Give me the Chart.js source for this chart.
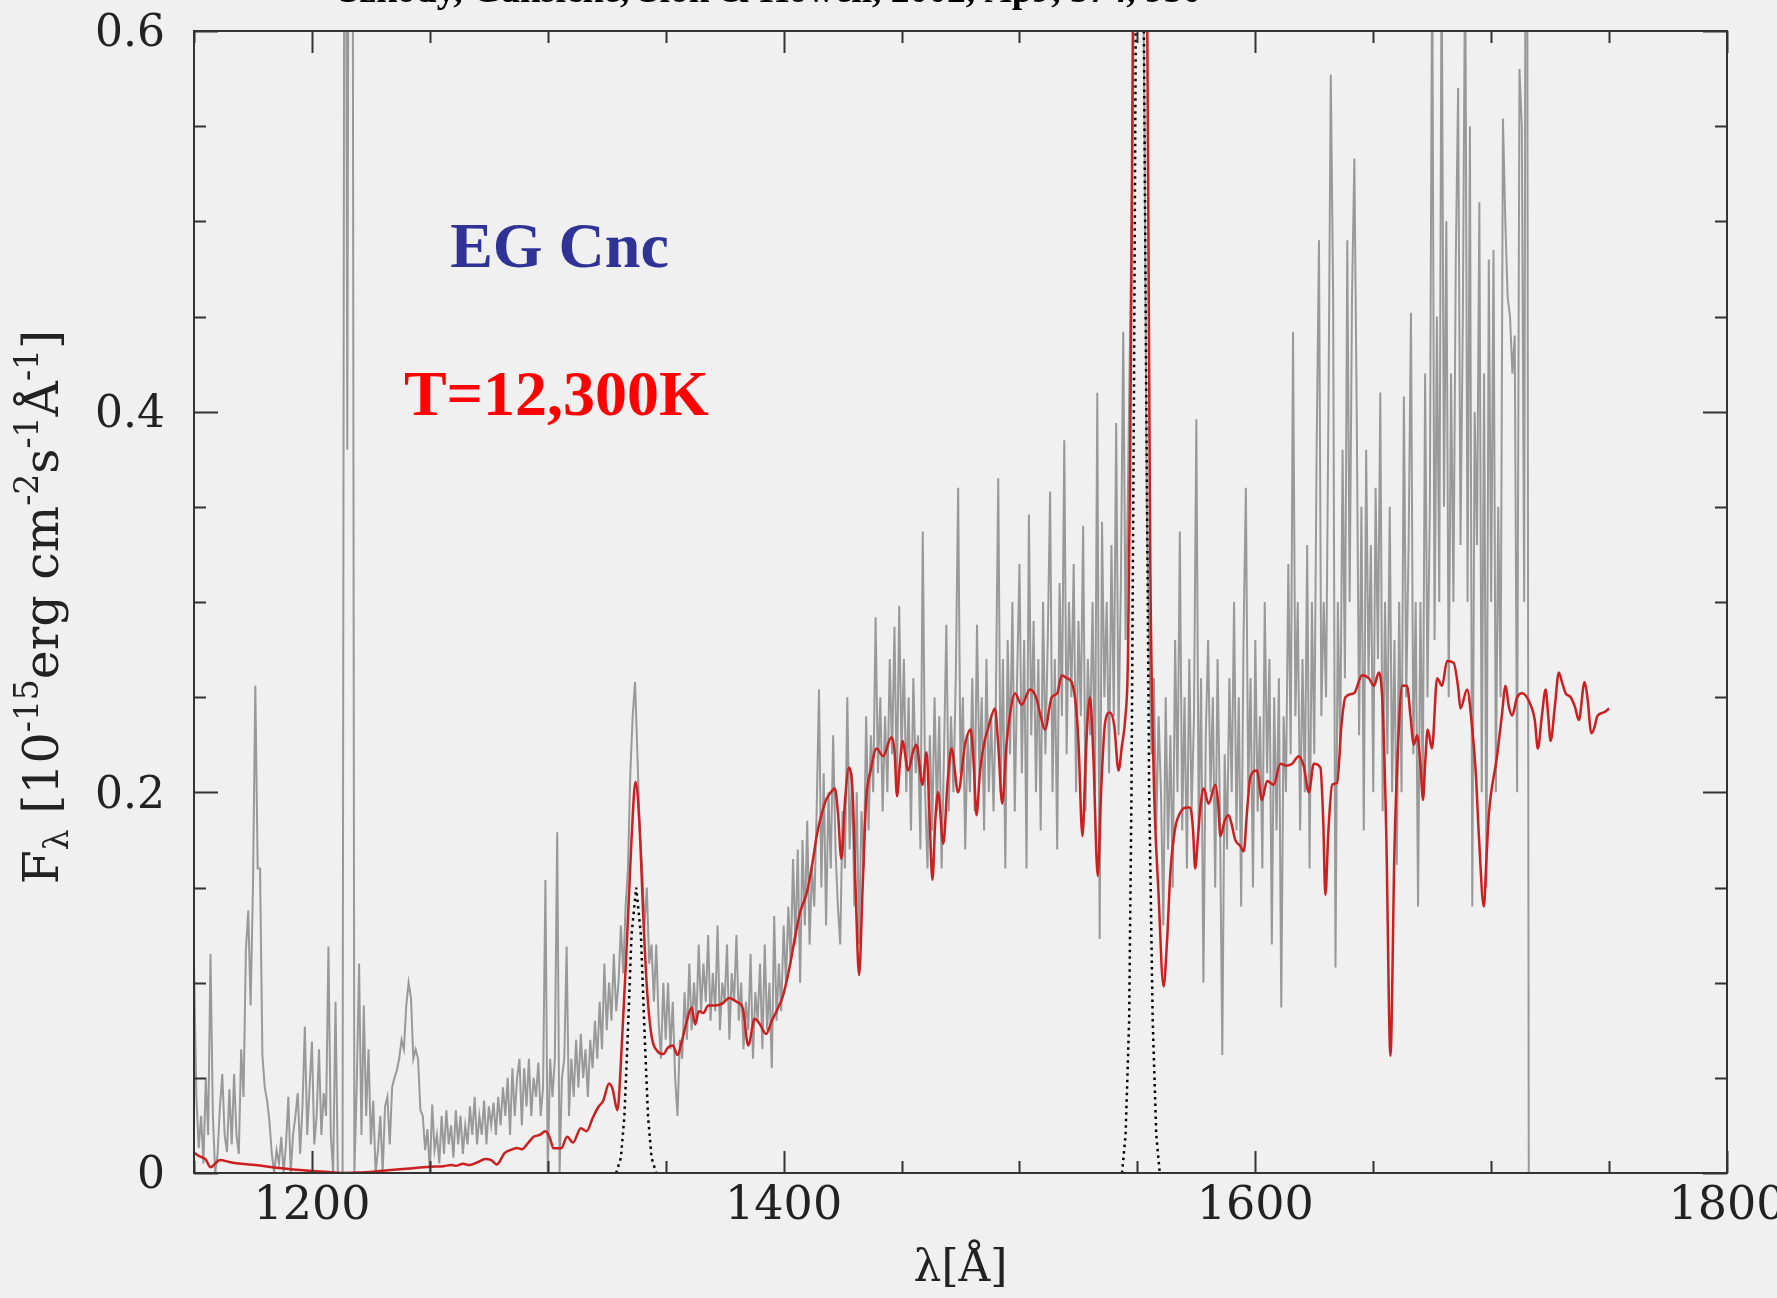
<!DOCTYPE html>
<html lang="en">
<head>
<meta charset="UTF-8">
<title>EG Cnc - HST spectrum and WD model</title>
<script src="https://cdn.jsdelivr.net/npm/chart.js"></script>
<style>
  html, body { margin: 0; padding: 0; background: #f0f0f0; }
  #wrap { width: 1777px; height: 1298px; }
</style>
</head>
<body>
<div id="wrap"><canvas id="spec" width="1777" height="1298"></canvas></div>

<script>
const obsWave = [
  1150,1151,1152,1153,1154,1155,1156,1157,1158,1159,
  1160,1161,1162,1163,1164,1165,1166,1167,1168,1169,
  1170,1171,1172,1173,1174,1175,1176,1177,1178,1179,
  1180,1181,1182,1183,1184,1185,1186,1187,1188,1189,
  1190,1191,1192,1193,1194,1195,1196,1197,1198,1199,
  1200,1201,1202,1203,1204,1205,1206,1207,1208,1209,
  1210,1211,1212,1213,1214,1215,1216,1217,1218,1219,
  1220,1221,1222,1223,1224,1225,1226,1227,1228,1229,
  1230,1231,1232,1233,1234,1235,1236,1237,1238,1239,
  1240,1241,1242,1243,1244,1245,1246,1247,1248,1249,
  1250,1251,1252,1253,1254,1255,1256,1257,1258,1259,
  1260,1261,1262,1263,1264,1265,1266,1267,1268,1269,
  1270,1271,1272,1273,1274,1275,1276,1277,1278,1279,
  1280,1281,1282,1283,1284,1285,1286,1287,1288,1289,
  1290,1291,1292,1293,1294,1295,1296,1297,1298,1299,
  1300,1301,1302,1303,1304,1305,1306,1307,1308,1309,
  1310,1311,1312,1313,1314,1315,1316,1317,1318,1319,
  1320,1321,1322,1323,1324,1325,1326,1327,1328,1329,
  1330,1331,1332,1333,1334,1335,1336,1337,1338,1339,
  1340,1341,1342,1343,1344,1345,1346,1347,1348,1349,
  1350,1351,1352,1353,1354,1355,1356,1357,1358,1359,
  1360,1361,1362,1363,1364,1365,1366,1367,1368,1369,
  1370,1371,1372,1373,1374,1375,1376,1377,1378,1379,
  1380,1381,1382,1383,1384,1385,1386,1387,1388,1389,
  1390,1391,1392,1393,1394,1395,1396,1397,1398,1399,
  1400,1401,1402,1403,1404,1405,1406,1407,1408,1409,
  1410,1411,1412,1413,1414,1415,1416,1417,1418,1419,
  1420,1421,1422,1423,1424,1425,1426,1427,1428,1429,
  1430,1431,1432,1433,1434,1435,1436,1437,1438,1439,
  1440,1441,1442,1443,1444,1445,1446,1447,1448,1449,
  1450,1451,1452,1453,1454,1455,1456,1457,1458,1459,
  1460,1461,1462,1463,1464,1465,1466,1467,1468,1469,
  1470,1471,1472,1473,1474,1475,1476,1477,1478,1479,
  1480,1481,1482,1483,1484,1485,1486,1487,1488,1489,
  1490,1491,1492,1493,1494,1495,1496,1497,1498,1499,
  1500,1501,1502,1503,1504,1505,1506,1507,1508,1509,
  1510,1511,1512,1513,1514,1515,1516,1517,1518,1519,
  1520,1521,1522,1523,1524,1525,1526,1527,1528,1529,
  1530,1531,1532,1533,1534,1535,1536,1537,1538,1539,
  1540,1541,1542,1543,1544,1545,1546,1547,1548,1549,
  1550,1551,1552,1553,1554,1555,1556,1557,1558,1559,
  1560,1561,1562,1563,1564,1565,1566,1567,1568,1569,
  1570,1571,1572,1573,1574,1575,1576,1577,1578,1579,
  1580,1581,1582,1583,1584,1585,1586,1587,1588,1589,
  1590,1591,1592,1593,1594,1595,1596,1597,1598,1599,
  1600,1601,1602,1603,1604,1605,1606,1607,1608,1609,
  1610,1611,1612,1613,1614,1615,1616,1617,1618,1619,
  1620,1621,1622,1623,1624,1625,1626,1627,1628,1629,
  1630,1631,1632,1633,1634,1635,1636,1637,1638,1639,
  1640,1641,1642,1643,1644,1645,1646,1647,1648,1649,
  1650,1651,1652,1653,1654,1655,1656,1657,1658,1659,
  1660,1661,1662,1663,1664,1665,1666,1667,1668,1669,
  1670,1671,1672,1673,1674,1675,1676,1677,1678,1679,
  1680,1681,1682,1683,1684,1685,1686,1687,1688,1689,
  1690,1691,1692,1693,1694,1695,1696,1697,1698,1699,
  1700,1701,1702,1703,1704,1705,1706,1707,1708,1709,
  1710,1711,1712,1713,1714,1715,1716
];
const obsFlux = [
  0.110,0.040,0.013,0.030,0.005,0.050,0.020,0.115,0.030,0.000,
  0.010,0.035,0.052,0.020,0.011,0.044,0.015,0.052,0.020,0.010,
  0.065,0.040,0.117,0.138,0.088,0.150,0.256,0.160,0.160,0.062,
  0.045,0.038,0.027,0.010,0.000,0.012,0.005,0.019,0.000,0.015,
  0.040,0.000,0.020,0.030,0.042,0.010,0.035,0.077,0.020,0.045,
  0.069,0.015,0.030,0.065,0.020,0.042,0.030,0.119,0.020,0.000,
  0.090,0.000,0.000,0.000,0.950,0.380,0.950,0.950,0.000,0.046,
  0.110,0.020,0.088,0.030,0.065,0.015,0.038,0.000,0.012,0.030,
  0.000,0.035,0.040,0.015,0.045,0.050,0.054,0.060,0.070,0.065,
  0.088,0.100,0.092,0.060,0.065,0.060,0.033,0.030,0.012,0.023,
  0.000,0.036,0.012,0.020,0.005,0.030,0.010,0.033,0.015,0.025,
  0.008,0.033,0.015,0.030,0.010,0.025,0.015,0.035,0.020,0.040,
  0.015,0.030,0.020,0.038,0.015,0.035,0.025,0.037,0.020,0.040,
  0.025,0.045,0.030,0.050,0.020,0.055,0.030,0.050,0.060,0.025,
  0.055,0.035,0.060,0.030,0.050,0.040,0.058,0.030,0.045,0.154,
  0.000,0.060,0.040,0.060,0.179,0.000,0.050,0.060,0.119,0.030,
  0.060,0.040,0.070,0.045,0.073,0.050,0.065,0.040,0.070,0.055,
  0.080,0.060,0.090,0.065,0.110,0.075,0.100,0.080,0.115,0.085,
  0.100,0.130,0.105,0.140,0.160,0.210,0.240,0.258,0.220,0.180,
  0.160,0.130,0.150,0.110,0.120,0.090,0.120,0.080,0.060,0.100,
  0.070,0.100,0.065,0.090,0.050,0.030,0.070,0.060,0.095,0.070,
  0.110,0.075,0.100,0.080,0.120,0.085,0.110,0.090,0.125,0.080,
  0.105,0.085,0.130,0.075,0.100,0.090,0.120,0.070,0.105,0.090,
  0.125,0.080,0.100,0.065,0.090,0.075,0.115,0.060,0.095,0.080,
  0.110,0.065,0.120,0.075,0.100,0.055,0.135,0.080,0.110,0.085,
  0.130,0.100,0.140,0.110,0.165,0.120,0.170,0.100,0.175,0.130,
  0.185,0.120,0.160,0.140,0.190,0.254,0.150,0.210,0.130,0.200,
  0.160,0.230,0.170,0.140,0.120,0.190,0.160,0.250,0.170,0.210,
  0.140,0.200,0.120,0.190,0.160,0.240,0.180,0.230,0.200,0.292,
  0.210,0.250,0.190,0.240,0.200,0.270,0.220,0.287,0.200,0.298,
  0.220,0.270,0.200,0.250,0.180,0.260,0.210,0.230,0.170,0.337,
  0.200,0.160,0.230,0.180,0.250,0.190,0.240,0.160,0.220,0.288,
  0.190,0.240,0.200,0.260,0.360,0.210,0.250,0.170,0.230,0.200,
  0.260,0.190,0.288,0.210,0.250,0.180,0.270,0.200,0.240,0.190,
  0.250,0.365,0.200,0.270,0.160,0.280,0.220,0.300,0.190,0.260,
  0.320,0.210,0.280,0.160,0.346,0.230,0.290,0.200,0.270,0.180,
  0.300,0.220,0.280,0.358,0.200,0.270,0.170,0.310,0.240,0.385,
  0.220,0.300,0.250,0.320,0.200,0.290,0.240,0.340,0.190,0.270,
  0.230,0.300,0.200,0.410,0.123,0.342,0.250,0.300,0.210,0.330,
  0.240,0.394,0.230,0.310,0.442,0.280,0.360,0.450,0.550,0.700,
  0.700,0.700,0.700,0.550,0.350,0.280,0.220,0.260,0.180,0.240,
  0.200,0.130,0.250,0.170,0.230,0.150,0.280,0.200,0.337,0.180,
  0.250,0.160,0.270,0.190,0.240,0.396,0.180,0.260,0.100,0.230,
  0.280,0.200,0.250,0.150,0.270,0.190,0.062,0.220,0.170,0.260,
  0.200,0.300,0.180,0.250,0.140,0.280,0.360,0.200,0.260,0.150,
  0.280,0.190,0.240,0.160,0.300,0.210,0.270,0.120,0.250,0.180,
  0.260,0.087,0.240,0.200,0.320,0.220,0.442,0.240,0.300,0.180,
  0.270,0.200,0.330,0.160,0.300,0.220,0.380,0.490,0.240,0.300,
  0.250,0.400,0.577,0.460,0.108,0.300,0.220,0.380,0.260,0.490,
  0.300,0.460,0.533,0.400,0.230,0.350,0.180,0.380,0.260,0.330,
  0.200,0.360,0.270,0.410,0.190,0.300,0.220,0.350,0.200,0.280,
  0.162,0.300,0.200,0.408,0.250,0.330,0.452,0.220,0.300,0.140,
  0.300,0.200,0.420,0.250,0.350,0.650,0.280,0.450,0.300,0.650,
  0.350,0.500,0.250,0.420,0.300,0.480,0.570,0.330,0.450,0.650,
  0.300,0.550,0.140,0.400,0.330,0.510,0.200,0.420,0.150,0.480,
  0.300,0.485,0.200,0.350,0.250,0.554,0.500,0.460,0.450,0.420,
  0.440,0.200,0.580,0.550,0.300,0.950,-0.050
];

// white dwarf model, T = 12,300 K (red)
const modelWave = [
  1149,1152,1155,1157,1159,1161,1165,1170,1176,1185,
  1195,1200,1206,1213,1220,1230,1240,1250,1256,1259,
  1261,1264,1267,1270,1273.5,1276,1278.4,1281.7,1284,1287,
  1289,1291.6,1294,1296.6,1299,1301,1302.4,1305.7,1308.2,1310.7,
  1314,1316.5,1319,1321.5,1323.5,1326,1327.5,1329.5,1331.5,1333.5,
  1335.5,1337.2,1338.8,1340.5,1342,1344,1346.5,1349,1351,1353,
  1355,1357,1359,1361,1362.5,1364,1366,1368,1371,1374,
  1377,1380,1382.7,1385,1387.7,1390,1392.6,1395,1397,1399.7,
  1402.5,1405,1407,1410,1412.5,1414,1416,1418,1420,1421.7,
  1423,1424.5,1426,1427.7,1429.4,1430.5,1432,1433.5,1435,1437,
  1439.4,1442.2,1445.7,1447,1448.1,1449.3,1450.4,1452.8,1455,1456.3,
  1458.9,1460.6,1461.8,1463.1,1464.3,1465.5,1467.7,1469.5,1471.2,1474,
  1476.9,1479.3,1480.6,1481.8,1483.2,1484.6,1487,1489.6,1491,1492.7,
  1494.5,1496.5,1498.1,1500.9,1504.5,1507,1509,1510.8,1513.7,1516,
  1517.9,1520,1522.1,1524,1525,1526.7,1528.3,1529.9,1531.3,1533.2,
  1534.6,1536.3,1538.4,1540.2,1542,1543.5,1544.8,1546,1546.9,1547.6,
  1548.3,1549,1553.5,1554.2,1555.4,1556.8,1559,1561.1,1562.5,1564,
  1566,1568.5,1571,1572.4,1573.6,1574.5,1575.6,1576.7,1578.1,1580.2,
  1583,1584.2,1585.2,1587,1588.7,1590,1591.5,1593.5,1595.1,1596.5,
  1597.9,1600.7,1602.8,1605,1607.8,1610.6,1613,1615.6,1618.4,1620.5,
  1622.7,1624.8,1627.6,1628.8,1629.7,1631,1632.6,1634.7,1636.5,1638.2,
  1641.8,1645.3,1648.1,1650.3,1652.4,1654,1655.5,1657.3,1659,1660.2,
  1662.3,1664.3,1665.8,1667.2,1668.6,1670,1671.1,1672,1673.1,1674.9,
  1677.1,1679.2,1681.3,1684.1,1686,1687,1689.8,1691.9,1693.5,1694.8,
  1696.9,1698,1699,1702.5,1704.5,1706.1,1707.5,1708.9,1711,1713.2,
  1716.7,1718.5,1719.8,1721.5,1723.1,1724.2,1725.2,1727,1728.7,1730,
  1731.6,1733.7,1735.5,1737.2,1739.6,1740.8,1742.5,1744,1745,1747.8,
  1750
];
const modelFlux = [
  0.0115,0.009,0.007,0.003,0.005,0.0068,0.0058,0.0048,0.0042,0.0028,
  0.0016,0.0011,0.0006,0.0,0.0002,0.0012,0.0022,0.0033,0.0036,0.0042,
  0.0038,0.0048,0.0042,0.0055,0.0073,0.0068,0.0045,0.0105,0.012,0.0131,
  0.0125,0.0157,0.019,0.020,0.0219,0.018,0.013,0.013,0.019,0.016,
  0.0235,0.022,0.0288,0.0348,0.038,0.047,0.044,0.033,0.07,0.12,
  0.175,0.2055,0.185,0.135,0.098,0.072,0.064,0.0625,0.066,0.067,
  0.062,0.07,0.08,0.087,0.078,0.085,0.084,0.088,0.088,0.089,
  0.092,0.09,0.0865,0.067,0.081,0.078,0.073,0.08,0.085,0.093,
  0.108,0.125,0.137,0.148,0.165,0.177,0.188,0.196,0.2,0.202,
  0.19,0.165,0.195,0.213,0.196,0.15,0.104,0.15,0.196,0.212,
  0.223,0.219,0.229,0.222,0.198,0.215,0.227,0.2115,0.222,0.225,
  0.204,0.221,0.19,0.154,0.185,0.2,0.173,0.205,0.223,0.2,
  0.225,0.233,0.215,0.188,0.21,0.223,0.235,0.244,0.225,0.194,
  0.225,0.245,0.252,0.246,0.254,0.25,0.24,0.233,0.25,0.252,
  0.2615,0.26,0.258,0.245,0.227,0.177,0.225,0.25,0.22,0.156,
  0.2,0.2365,0.242,0.235,0.2115,0.225,0.238,0.27,0.369,0.5,
  0.65,0.9,0.9,0.6,0.331,0.215,0.146,0.098,0.12,0.158,
  0.181,0.19,0.192,0.192,0.18,0.16,0.175,0.192,0.202,0.194,
  0.204,0.195,0.177,0.185,0.188,0.183,0.175,0.172,0.169,0.19,
  0.208,0.2115,0.196,0.206,0.204,0.215,0.214,0.215,0.219,0.214,
  0.2,0.215,0.213,0.185,0.146,0.18,0.204,0.205,0.235,0.25,
  0.252,0.2615,0.26,0.256,0.263,0.245,0.18,0.0615,0.17,0.215,
  0.256,0.256,0.24,0.225,0.23,0.215,0.196,0.215,0.233,0.223,
  0.26,0.256,0.269,0.268,0.255,0.244,0.254,0.2345,0.21,0.177,
  0.14,0.165,0.188,0.219,0.24,0.256,0.245,0.2404,0.25,0.252,
  0.246,0.238,0.223,0.24,0.254,0.24,0.227,0.245,0.263,0.258,
  0.252,0.25,0.245,0.238,0.258,0.25,0.231,0.235,0.24,0.242,
  0.244
];

// emission line components (dotted): C II 1335 and C IV 1550
const lineWave = [
  1329,1331,1332.5,1334,1335.5,1337.5,1339.5,1341,1342.5,1344,1346,
  1450,
  1543.5,1545,1546.5,1547.5,1548.5,1549.5,1551,1552.5,1553.8,1555,1556.5,1558,1559.5
];
const lineFlux = [
  0,0.008,0.03,0.075,0.125,0.15,0.125,0.075,0.03,0.008,0,
  null,
  0,0.02,0.08,0.2,0.4,0.65,1.0,0.65,0.4,0.2,0.08,0.02,0
];

const xTickLabels = [1200, 1400, 1600, 1800];
const yTickLabels = [0, 0.2, 0.4, 0.6];

const toPoints = (xs, ys) => xs.map((w, i) => ({ x: w, y: ys[i] }));

const serif = '"DejaVu Serif"';

// frame, inward tick marks, annotations and the y axis title
const decor = {
  id: 'decor',
  beforeDraw(chart) {
    const ctx = chart.ctx;
    ctx.save();
    ctx.fillStyle = '#f0f0f0';
    ctx.fillRect(0, 0, chart.width, chart.height);
    ctx.restore();
  },
  afterDraw(chart) {
    const { ctx, chartArea: a, scales: { x, y } } = chart;
    ctx.save();
    ctx.strokeStyle = '#333';
    ctx.lineWidth = 2;
    ctx.strokeRect(a.left, a.top, a.right - a.left, a.bottom - a.top);

    ctx.beginPath();
    x.ticks.forEach(t => {
      const px = Math.round(x.getPixelForValue(t.value)) + 0.5;
      const len = xTickLabels.includes(t.value) ? 22 : 12;
      ctx.moveTo(px, a.bottom); ctx.lineTo(px, a.bottom - len);
      ctx.moveTo(px, a.top); ctx.lineTo(px, a.top + len);
    });
    y.ticks.forEach(t => {
      const py = Math.round(y.getPixelForValue(t.value)) + 0.5;
      const major = yTickLabels.some(l => Math.abs(l - t.value) < 1e-6);
      const len = major ? 24 : 12;
      ctx.moveTo(a.left, py); ctx.lineTo(a.left + len, py);
      ctx.moveTo(a.right, py); ctx.lineTo(a.right - len, py);
    });
    ctx.stroke();

    // labels inside the plot
    ctx.textBaseline = 'alphabetic';
    ctx.textAlign = 'left';
    ctx.font = 'bold 64px "Liberation Serif"';
    ctx.fillStyle = '#2f3396';
    ctx.fillText('EG Cnc', x.getPixelForValue(1258.6), y.getPixelForValue(0.476));
    ctx.fillStyle = '#ff0000';
    ctx.fillText('T=12,300K', x.getPixelForValue(1239), y.getPixelForValue(0.398));

    // reference line, cut by the top edge
    ctx.fillStyle = '#000';
    ctx.textAlign = 'center';
    ctx.font = 'bold 37.5px "Liberation Serif"';
    ctx.fillText('Szkody, Gänsicke, Sion & Howell, 2002, ApJ, 574, 950', 770, 2);

    // y axis title with sub- and superscripts
    const big = 49, small = 33;
    const parts = [
      ['F', big, 0], ['λ', small, 10], [' [10', big, 0], ['-15', small, -20],
      ['erg cm', big, 0], ['-2', small, -20], ['s', big, 0], ['-1', small, -20],
      ['Å', big, 0], ['-1', small, -20], [']', big, 0]
    ];
    ctx.translate(58, 607);
    ctx.rotate(-Math.PI / 2);
    ctx.fillStyle = '#222';
    ctx.textAlign = 'left';
    let total = 0;
    parts.forEach(p => { ctx.font = p[1] + 'px ' + serif; total += ctx.measureText(p[0]).width; });
    let pos = -total / 2;
    parts.forEach(p => {
      ctx.font = p[1] + 'px ' + serif;
      ctx.fillText(p[0], pos, p[2]);
      pos += ctx.measureText(p[0]).width;
    });
    ctx.restore();
  }
};

new Chart(document.getElementById('spec'), {
  type: 'line',
  data: {
    datasets: [
      {
        label: 'line components',
        data: toPoints(lineWave, lineFlux),
        borderColor: '#000',
        borderWidth: 2.5,
        borderDash: [2.5, 4],
        pointRadius: 0,
        spanGaps: false,
        clip: 0,
        order: 0
      },
      {
        label: 'WD model',
        data: toPoints(modelWave, modelFlux),
        borderColor: '#cc1f1f',
        borderWidth: 2.5,
        pointRadius: 0,
        cubicInterpolationMode: 'monotone',
        clip: 0,
        order: 1
      },
      {
        label: 'HST spectrum',
        data: toPoints(obsWave, obsFlux),
        borderColor: '#999999',
        borderWidth: 2,
        pointRadius: 0,
        clip: 0,
        order: 2
      }
    ]
  },
  options: {
    responsive: false,
    animation: false,
    devicePixelRatio: 1,
    layout: { padding: { top: 31, right: 50, left: 0, bottom: 0 } },
    plugins: { legend: { display: false }, tooltip: { enabled: false } },
    scales: {
      x: {
        type: 'linear',
        min: 1150,
        max: 1800,
        grid: { display: false, drawTicks: false },
        border: { display: false },
        ticks: {
          stepSize: 50,
          autoSkip: false,
          maxRotation: 0,
          padding: 6,
          color: '#222',
          font: { family: serif, size: 46 },
          callback: v => xTickLabels.includes(v) ? String(v) : ''
        },
        title: {
          display: true,
          text: 'λ[Å]',
          color: '#222',
          font: { family: serif, size: 44 },
          padding: { top: 0, bottom: 2 }
        },
        afterFit(s) { s.height = 125; s.paddingLeft = 0; s.paddingRight = 0; }
      },
      y: {
        type: 'linear',
        min: 0,
        max: 0.6,
        grid: { display: false, drawTicks: false },
        border: { display: false },
        ticks: {
          stepSize: 0.05,
          autoSkip: false,
          padding: 29,
          labelOffset: 4,
          color: '#222',
          font: { family: serif, size: 44 },
          callback: v => {
            const m = yTickLabels.find(l => Math.abs(l - v) < 1e-6);
            if (m === undefined) return '';
            return m === 0 ? '0' : m.toFixed(1);
          }
        },
        afterFit(s) { s.width = 194; s.paddingTop = 0; s.paddingBottom = 0; }
      }
    }
  },
  plugins: [decor]
});
</script>
</body>
</html>
